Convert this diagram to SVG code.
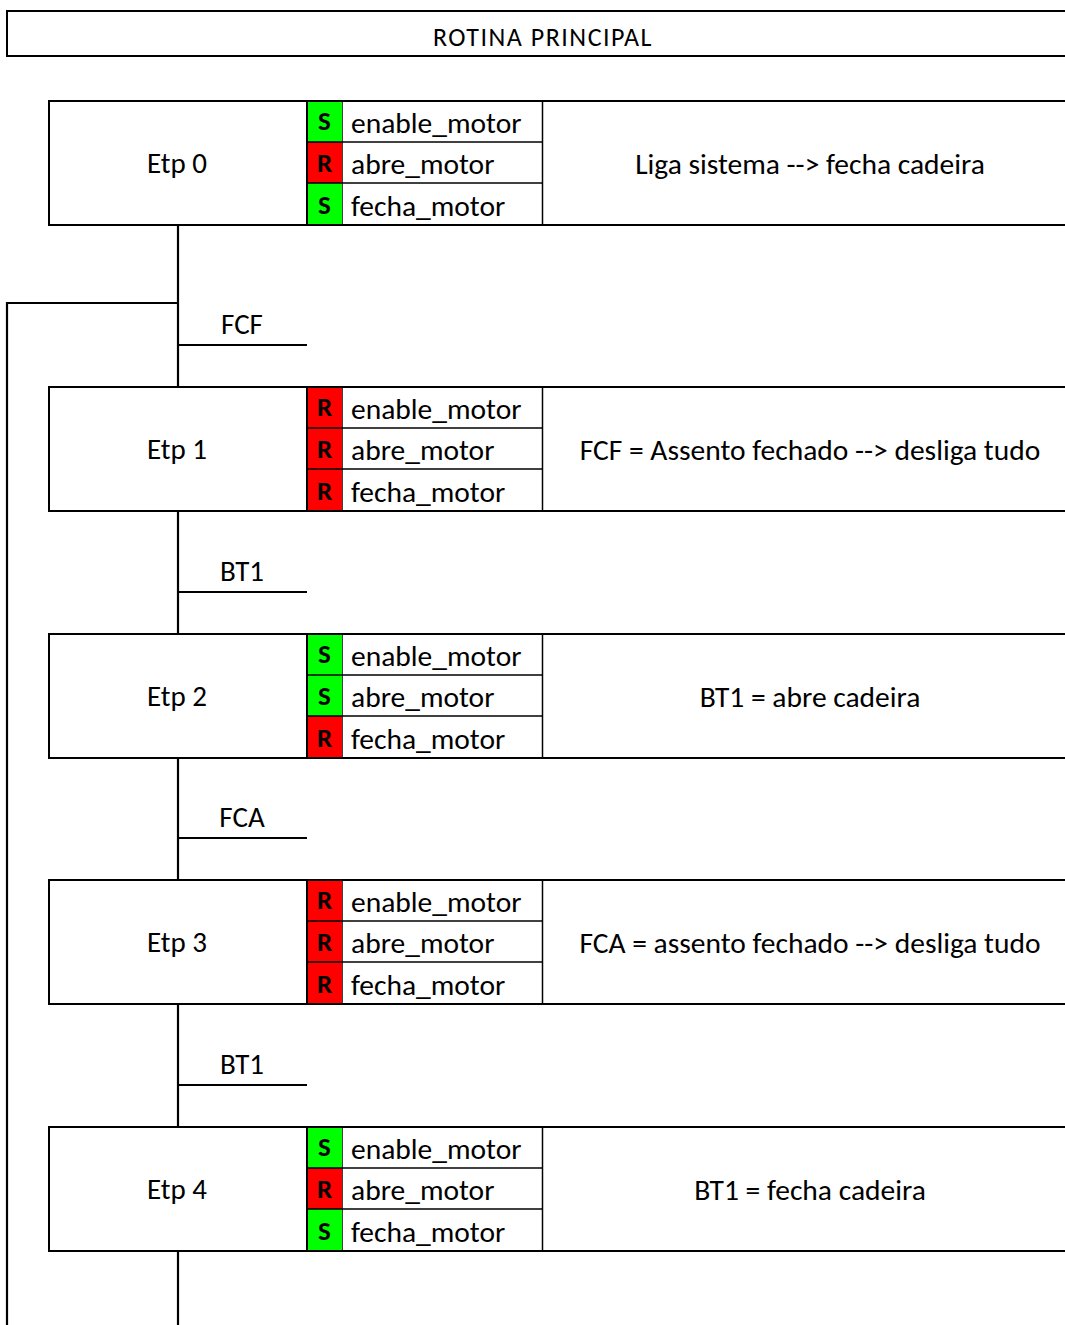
<svg xmlns="http://www.w3.org/2000/svg" width="1065" height="1325" viewBox="0 0 1065 1325">
  <style>
    text { font-family: Carlito, Calibri, Lato, "Open Sans", sans-serif; fill: #000; }
    .title { font-size: 26px; letter-spacing: 1.5px; text-anchor: middle; }
    .etp { font-size: 29px; text-anchor: middle; }
    .out { font-size: 29.5px; }
    .desc { font-size: 29.5px; text-anchor: middle; }
    .cond { font-size: 29px; text-anchor: middle; }
    .op { font-size: 27px; font-weight: bold; text-anchor: middle; }
    .box { fill: #fff; stroke: #000; stroke-width: 2; }
    .thick { stroke: #000; stroke-width: 2; fill: none; }
    .thin { stroke: #000; stroke-width: 1.5; fill: none; }
    .set { fill: #00ff00; }
    .reset { fill: #ff0000; }
    .wire { stroke: #000; stroke-width: 2.2; fill: none; }
    .bar { stroke: #000; stroke-width: 2; fill: none; }
  </style>
  <defs>
    <!-- one step block: outline, coil column, output rows -->
    <g id="frame">
      <rect x="49" y="0" width="1030" height="124" class="box"/>
      <line x1="307" y1="0" x2="307" y2="124" class="thick"/>
      <line x1="342" y1="0" x2="342" y2="124" class="thin"/>
      <line x1="542.5" y1="0" x2="542.5" y2="124" class="thin"/>
    </g>
    <g id="rows">
      <line x1="307" y1="41" x2="542.5" y2="41" class="thin"/>
      <line x1="307" y1="82" x2="542.5" y2="82" class="thin"/>
      <text x="351" y="32" class="out">enable_motor</text>
      <text x="351" y="73" class="out">abre_motor</text>
      <text x="351" y="115" class="out">fecha_motor</text>
    </g>
  </defs>

  <rect width="1065" height="1325" fill="#fff"/>

  <!-- title bar -->
  <g id="header">
    <rect x="7" y="11" width="1080" height="45" class="box"/>
    <text x="543" y="46" class="title">ROTINA PRINCIPAL</text>
  </g>

  <!-- connectors between steps -->
  <g id="connectors">
    <line x1="178" y1="226" x2="178" y2="387" class="wire"/>
    <line x1="178" y1="511" x2="178" y2="634" class="wire"/>
    <line x1="178" y1="757" x2="178" y2="880" class="wire"/>
    <line x1="178" y1="1004" x2="178" y2="1127" class="wire"/>
    <line x1="178" y1="1251" x2="178" y2="1325" class="wire"/>
    <polyline points="178,303 7,303 7,1325" class="wire"/>
    <line x1="178" y1="345" x2="307" y2="345" class="bar"/>
    <line x1="178" y1="592" x2="307" y2="592" class="bar"/>
    <line x1="178" y1="838" x2="307" y2="838" class="bar"/>
    <line x1="178" y1="1085" x2="307" y2="1085" class="bar"/>
    <text x="242" y="334" class="cond">FCF</text>
    <text x="242" y="581" class="cond">BT1</text>
    <text x="242" y="827" class="cond">FCA</text>
    <text x="242" y="1074" class="cond">BT1</text>
  </g>

  <g id="etp0" transform="translate(0,101)">
    <use href="#frame"/>
    <rect x="308" y="1" width="34" height="40" class="set"/>
    <rect x="308" y="41" width="34" height="41" class="reset"/>
    <rect x="308" y="82" width="34" height="41" class="set"/>
    <use href="#rows"/>
    <text x="324.5" y="29" class="op">S</text>
    <text x="324.5" y="71" class="op">R</text>
    <text x="324.5" y="113" class="op">S</text>
    <text x="177" y="72" class="etp">Etp 0</text>
    <text x="810" y="73" class="desc">Liga sistema --&gt; fecha cadeira</text>
  </g>

  <g id="etp1" transform="translate(0,387)">
    <use href="#frame"/>
    <rect x="308" y="1" width="34" height="40" class="reset"/>
    <rect x="308" y="41" width="34" height="41" class="reset"/>
    <rect x="308" y="82" width="34" height="41" class="reset"/>
    <use href="#rows"/>
    <text x="324.5" y="29" class="op">R</text>
    <text x="324.5" y="71" class="op">R</text>
    <text x="324.5" y="113" class="op">R</text>
    <text x="177" y="72" class="etp">Etp 1</text>
    <text x="810" y="73" class="desc">FCF = Assento fechado --&gt; desliga tudo</text>
  </g>

  <g id="etp2" transform="translate(0,634)">
    <use href="#frame"/>
    <rect x="308" y="1" width="34" height="40" class="set"/>
    <rect x="308" y="41" width="34" height="41" class="set"/>
    <rect x="308" y="82" width="34" height="41" class="reset"/>
    <use href="#rows"/>
    <text x="324.5" y="29" class="op">S</text>
    <text x="324.5" y="71" class="op">S</text>
    <text x="324.5" y="113" class="op">R</text>
    <text x="177" y="72" class="etp">Etp 2</text>
    <text x="810" y="73" class="desc">BT1 = abre cadeira</text>
  </g>

  <g id="etp3" transform="translate(0,880)">
    <use href="#frame"/>
    <rect x="308" y="1" width="34" height="40" class="reset"/>
    <rect x="308" y="41" width="34" height="41" class="reset"/>
    <rect x="308" y="82" width="34" height="41" class="reset"/>
    <use href="#rows"/>
    <text x="324.5" y="29" class="op">R</text>
    <text x="324.5" y="71" class="op">R</text>
    <text x="324.5" y="113" class="op">R</text>
    <text x="177" y="72" class="etp">Etp 3</text>
    <text x="810" y="73" class="desc">FCA = assento fechado --&gt; desliga tudo</text>
  </g>

  <g id="etp4" transform="translate(0,1127)">
    <use href="#frame"/>
    <rect x="308" y="1" width="34" height="40" class="set"/>
    <rect x="308" y="41" width="34" height="41" class="reset"/>
    <rect x="308" y="82" width="34" height="41" class="set"/>
    <use href="#rows"/>
    <text x="324.5" y="29" class="op">S</text>
    <text x="324.5" y="71" class="op">R</text>
    <text x="324.5" y="113" class="op">S</text>
    <text x="177" y="72" class="etp">Etp 4</text>
    <text x="810" y="73" class="desc">BT1 = fecha cadeira</text>
  </g>
</svg>
